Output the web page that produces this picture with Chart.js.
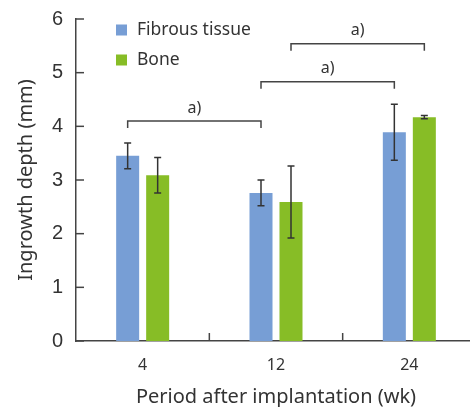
<!DOCTYPE html>
<html lang="en">
<head>
  <meta charset="UTF-8" />
  <title>Ingrowth depth</title>
  <script src="https://cdn.jsdelivr.net/npm/chart.js"></script>
  <style>
    body {
      margin: 0;
      overflow: hidden;
      background: #fff;
    }
    .wrap {
      width: 476px;
      height: 407px;
    }
  </style>
</head>
<body>
  <div class="wrap">
    <canvas id="chart" width="476" height="407"></canvas>
  </div>

  <script>
    // data
    const weeks = ["4", "12", "24"];
    const seriesNames = ["Fibrous tissue", "Bone"];
    const fibrous = [3.45, 2.76, 3.89];
    const fibrousErr = [0.24, 0.24, 0.52];
    const bone = [3.09, 2.59, 4.17];
    const boneErr = [0.33, 0.67, 0.03];

    // significance brackets: [dataset, category] -> [dataset, category] at height
    const bracketFrom = [[0, 0], [0, 1], [1, 1]];
    const bracketTo = [[0, 1], [0, 2], [1, 2]];
    const bracketLevel = [4.10, 4.83, 5.54];
    const bracketText = ["a)", "a)", "a)"];

    const blue = "#779ed5";
    const green = "#87bd26";
    const ink = "#333333";

    const extras = {
      id: "extras",
      afterDatasetsDraw(chart) {
        const ctx = chart.ctx;
        const x = chart.scales.x;
        const y = chart.scales.y;
        const area = chart.chartArea;
        const errs = [fibrousErr, boneErr];

        ctx.save();
        ctx.strokeStyle = ink;
        ctx.lineWidth = 1.5;

        // error bars
        chart.data.datasets.forEach((ds, i) => {
          const meta = chart.getDatasetMeta(i);
          meta.data.forEach((bar, j) => {
            const hi = y.getPixelForValue(ds.data[j] + errs[i][j]);
            const lo = y.getPixelForValue(ds.data[j] - errs[i][j]);
            ctx.beginPath();
            ctx.moveTo(bar.x, hi);
            ctx.lineTo(bar.x, lo);
            ctx.moveTo(bar.x - 3.5, hi);
            ctx.lineTo(bar.x + 3.5, hi);
            ctx.moveTo(bar.x - 3.5, lo);
            ctx.lineTo(bar.x + 3.5, lo);
            ctx.stroke();
          });
        });

        // inward ticks on y
        ctx.strokeStyle = "#444";
        y.ticks.forEach(t => {
          const py = y.getPixelForValue(t.value);
          ctx.beginPath();
          ctx.moveTo(area.left, py);
          ctx.lineTo(area.left + 8, py);
          ctx.stroke();
        });

        // inward ticks between categories on x
        for (let i = 0; i < weeks.length - 1; i++) {
          const px = (x.getPixelForTick(i) + x.getPixelForTick(i + 1)) / 2;
          ctx.beginPath();
          ctx.moveTo(px, area.bottom);
          ctx.lineTo(px, area.bottom - 8);
          ctx.stroke();
        }

        // brackets
        ctx.fillStyle = ink;
        ctx.font = "16px 'Noto Sans'";
        ctx.textAlign = "center";
        ctx.textBaseline = "middle";
        bracketLevel.forEach((lvl, k) => {
          const a = chart.getDatasetMeta(bracketFrom[k][0]).data[bracketFrom[k][1]];
          const b = chart.getDatasetMeta(bracketTo[k][0]).data[bracketTo[k][1]];
          const py = y.getPixelForValue(lvl);
          const drop = y.getPixelForValue(lvl - 0.13);
          ctx.beginPath();
          ctx.moveTo(a.x, drop);
          ctx.lineTo(a.x, py);
          ctx.lineTo(b.x, py);
          ctx.lineTo(b.x, drop);
          ctx.stroke();
          ctx.fillText(bracketText[k], (a.x + b.x) / 2, py - 13);
        });

        // legend
        ctx.textAlign = "left";
        ctx.font = "17.5px 'Noto Sans'";
        chart.data.datasets.forEach((ds, i) => {
          const cy = 30 + i * 30;
          ctx.fillStyle = ds.backgroundColor;
          ctx.fillRect(116, cy - 5.5, 11, 11);
          ctx.fillStyle = ink;
          ctx.fillText(ds.label, 137, cy);
        });

        ctx.restore();
      }
    };

    new Chart(document.getElementById("chart"), {
      type: "bar",
      data: {
        labels: weeks,
        datasets: [
          { label: seriesNames[0], data: fibrous, backgroundColor: blue },
          { label: seriesNames[1], data: bone, backgroundColor: green }
        ]
      },
      options: {
        responsive: false,
        animation: false,
        layout: { padding: { top: 19, right: 0, left: 0, bottom: 0 } },
        datasets: {
          bar: { categoryPercentage: 0.45, barPercentage: 0.767 }
        },
        plugins: {
          legend: { display: false },
          tooltip: { enabled: false }
        },
        scales: {
          x: {
            grid: { display: false, drawTicks: false },
            border: { color: "#444", width: 1.5 },
            ticks: {
              color: ink,
              padding: 15,
              font: { family: "'Noto Sans'", size: 16 }
            },
            title: {
              display: true,
              text: "Period after implantation (wk)",
              color: ink,
              padding: { top: 0, bottom: -2 },
              font: { family: "'Noto Sans'", size: 20 }
            },
            afterFit(scale) { scale.height = 66; }
          },
          y: {
            min: 0,
            max: 6,
            grid: { display: false, drawTicks: false },
            border: { color: "#444", width: 1.5 },
            ticks: {
              stepSize: 1,
              color: ink,
              padding: 13,
              font: { family: "'Liberation Sans'", size: 20 }
            },
            title: {
              display: true,
              text: "Ingrowth depth (mm)",
              color: ink,
              padding: { top: 14, bottom: 0 },
              font: { family: "'Noto Sans'", size: 20 }
            },
            afterFit(scale) {
              scale.width = 76;
              scale.paddingTop = 0;
              scale.paddingBottom = 0;
            }
          }
        }
      },
      plugins: [extras]
    });
  </script>
</body>
</html>
